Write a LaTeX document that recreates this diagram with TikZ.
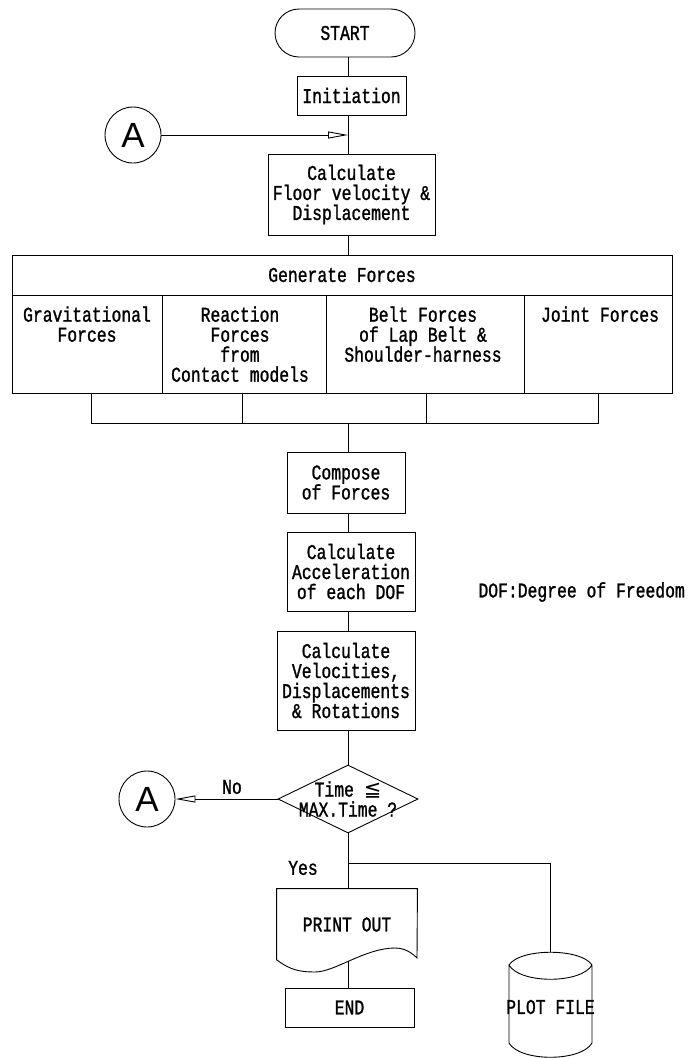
\documentclass[tikz,border=0pt]{standalone}
\usepackage{fontspec}
\usetikzlibrary{shapes.geometric,arrows.meta}
\newfontfamily\dfont{Liberation Mono}[FakeStretch=0.78,FakeBold=1.2]
\newfontfamily\afont{Liberation Sans}
\newfontfamily\symf{DejaVu Sans}
\newcommand\dsz{\fontsize{21}{20}\selectfont}
\begin{document}
\begin{tikzpicture}[x=1pt,y=-1pt,line width=0.9pt,
  every node/.style={inner sep=0pt},
  txt/.style={font=\dfont\dsz,align=center},
  box/.style={draw,rectangle,txt},
  arr/.style={-{Triangle[open,length=20pt,width=7pt]}},
  circ/.style={draw,circle,minimum size=56pt,font=\afont\fontsize{35}{35}\selectfont}]
\useasboundingbox (0,0) rectangle (694,1058);
\coordinate (ax) at (348,0);
% top
\node[box,rounded corners=24pt,minimum width=140pt,minimum height=48pt] (start) at (345,33) {START};
\node[box,minimum width=109pt,minimum height=39pt] (init) at (351.5,95.5) {Initiation};
\node[circ] (a1) at (133,135) {A};
\node[box,minimum width=167pt,minimum height=81pt] (floor) at (351.5,194.5) {Calculate\\Floor velocity \&\\Displacement};
% generate forces
\node[box,minimum width=660pt,minimum height=40pt] (gen) at (342,275) {Generate Forces};
\node[draw,minimum width=150pt,minimum height=98pt] (c1) at (87,344) {};
\node[draw,minimum width=164pt,minimum height=98pt] (c2) at (244,344) {};
\node[draw,minimum width=198pt,minimum height=98pt] (c3) at (425,344) {};
\node[draw,minimum width=148pt,minimum height=98pt] (c4) at (598,344) {};
\node[txt,anchor=north] (t1) at (87,306) {Gravitational\\Forces};
\node[txt,anchor=north] (t2) at (240,306) {Reaction\\Forces\\from\\Contact models};
\node[txt,anchor=north] (t3) at (423,306) {Belt Forces\\of Lap Belt \&\\Shoulder-harness};
\node[txt,anchor=north] (t4) at (600,306) {Joint Forces};
\coordinate (b1) at (91,423);
\coordinate (b2) at (242,423);
\coordinate (b3) at (426,423);
\coordinate (b4) at (598,423);
% middle
\node[box,minimum width=118pt,minimum height=61pt] (comp) at (346,482.5) {Compose\\of Forces};
\node[box,minimum width=128pt,minimum height=79pt] (acc) at (351,571.5) {Calculate\\Acceleration\\of each DOF};
\node[txt,anchor=west] (dof) at (478,592) {DOF:Degree of Freedom};
\node[box,minimum width=138pt,minimum height=99pt] (vel) at (346,680.5) {Calculate\\Velocities,\\Displacements\\\& Rotations};
% decision
\node[draw,diamond,minimum width=140pt,minimum height=68pt] (dia) at (348,799) {};
\node[txt] (diat) at (348,799) {Time {\symf ≦}\\MAX.Time ?};
\node[circ] (a2) at (147,799) {A};
\node[txt] (no) at (232,787) {No};
\node[txt] (yes) at (303,868) {Yes};
% outputs
\node[txt,minimum width=140pt,minimum height=71pt] (print) at (347,924.5) {PRINT OUT};
\draw (print.south west) -- (print.north west) -- (print.north east) -- (417,958)
  .. controls (412,953) and (405,948) .. (395,948)
  .. controls (365,948) and (335,972) .. (315,972)
  .. controls (300,972) and (290,970) .. (277,960);
\coordinate (wave) at (348,961);
\node[box,minimum width=129pt,minimum height=39pt] (end) at (349.5,1007.5) {END};
\node[txt] (plot) at (550.5,1007) {PLOT FILE};
\coordinate (cyltop) at (550.5,952);
\draw (509,965) -- (509,1043) .. controls (520,1062) and (581,1062) .. (592,1043) -- (592,965)
  .. controls (581,948) and (520,948) .. (509,965)
  .. controls (520,984) and (581,984) .. (592,965);
\coordinate (br) at (348,863);
% connectors
\draw (ax |- start.south) -- (ax |- init.north);
\draw (ax |- init.south) -- (ax |- floor.north);
\draw[arr] (a1.east) -- (a1.east -| ax);
\draw (ax |- floor.south) -- (ax |- gen.north);
\draw (b1 |- c1.south) -- (b1) -- (b4) -- (b4 |- c4.south);
\draw (b2 |- c2.south) -- (b2);
\draw (b3 |- c3.south) -- (b3);
\draw (ax |- b1) -- (ax |- comp.north);
\draw (ax |- comp.south) -- (ax |- acc.north);
\draw (ax |- acc.south) -- (ax |- vel.north);
\draw (ax |- vel.south) -- (dia.north);
\draw[arr] (dia.west) -- (a2.east);
\draw (dia.south) -- (ax |- print.north);
\draw (br) -| (cyltop);
\draw (wave) -- (ax |- end.north);
\end{tikzpicture}
\end{document}
